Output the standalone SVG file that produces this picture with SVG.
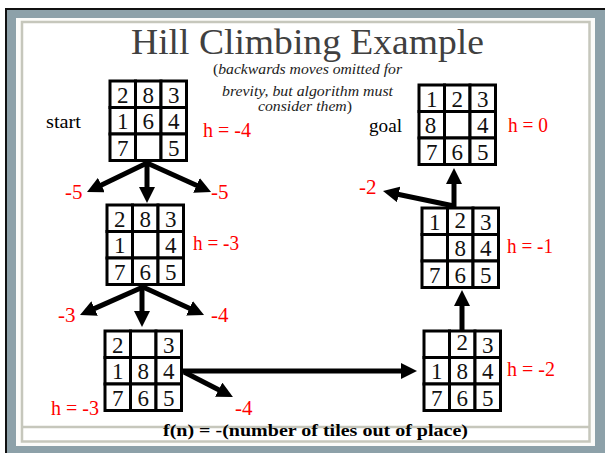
<svg xmlns="http://www.w3.org/2000/svg" width="605" height="453" viewBox="0 0 605 453" font-family="'Liberation Serif', serif">
<defs>
<style>
.cell{fill:#fff;stroke:#000;stroke-width:3}
.d{font-size:23px;fill:#111;text-anchor:middle}
.h{font-size:21px;fill:#ff0000}
.lbl{font-size:19px;fill:#000}
.sub{font-size:15px;font-style:italic;fill:#222}
.arr{stroke:#000;stroke-width:5;fill:none;marker-end:url(#ah)}
</style>
<marker id="ah" viewBox="0 0 16 16" markerWidth="16" markerHeight="16" refX="1" refY="8" orient="auto" markerUnits="userSpaceOnUse">
<path d="M0,0 L16,8 L0,16 z" fill="#000"/>
</marker>
<g id="cells">
<rect class="cell" x="0" y="0" width="25.5" height="26.5"/>
<rect class="cell" x="25.5" y="0" width="25.5" height="26.5"/>
<rect class="cell" x="51" y="0" width="25.5" height="26.5"/>
<rect class="cell" x="0" y="26.5" width="25.5" height="26.5"/>
<rect class="cell" x="25.5" y="26.5" width="25.5" height="26.5"/>
<rect class="cell" x="51" y="26.5" width="25.5" height="26.5"/>
<rect class="cell" x="0" y="53" width="25.5" height="26.5"/>
<rect class="cell" x="25.5" y="53" width="25.5" height="26.5"/>
<rect class="cell" x="51" y="53" width="25.5" height="26.5"/>
</g>
</defs>
<g id="frame">
<rect x="0" y="0" width="605" height="453" fill="#fff"/>
<rect x="5" y="8" width="600" height="445" fill="#111"/>
<rect x="7" y="10" width="598" height="443" fill="#8da1a9"/>
<rect x="16" y="18" width="579" height="428" fill="#fbfbf9"/>
<rect x="22" y="22" width="567.5" height="419.5" fill="#fff" stroke="#c6c7bc" stroke-width="2.5"/>
<line x1="22" y1="427" x2="589.5" y2="427" stroke="#c6c7bc" stroke-width="2.5"/>
</g>
<g id="title">
<text x="131" y="54" font-size="36" fill="#404040" textLength="353" lengthAdjust="spacingAndGlyphs">Hill Climbing Example</text>
<text class="sub" x="213" y="74" font-size="15" textLength="189" lengthAdjust="spacingAndGlyphs"><tspan font-style="normal">(</tspan>backwards moves omitted for</text>
<text class="sub" x="222" y="96" textLength="171" lengthAdjust="spacingAndGlyphs">brevity, but algorithm must</text>
<text class="sub" x="258" y="111" textLength="94" lengthAdjust="spacingAndGlyphs">consider them<tspan font-style="normal">)</tspan></text>
</g>
<g id="connectors">
<line class="arr" x1="147" y1="163" x2="100.5" y2="185.5"/>
<line class="arr" x1="147" y1="162" x2="147" y2="188"/>
<line class="arr" x1="147" y1="163" x2="197.4" y2="185.8"/>
<line class="arr" x1="143" y1="287" x2="93.7" y2="308.9"/>
<line class="arr" x1="142" y1="286" x2="142" y2="312"/>
<line class="arr" x1="143" y1="287" x2="190.4" y2="308.7"/>
<line class="arr" x1="183" y1="371" x2="402" y2="371"/>
<line class="arr" x1="184" y1="372" x2="219.6" y2="390.2"/>
<line class="arr" x1="462" y1="331" x2="462" y2="305"/>
<line class="arr" x1="454" y1="208" x2="454" y2="183"/>
<line class="arr" x1="454" y1="206" x2="397.7" y2="194.2"/>
</g>
<g id="start" transform="translate(110,81)">
<use href="#cells"/>
<text class="d" x="12.75" y="21.5">2</text><text class="d" x="38.25" y="21.5">8</text><text class="d" x="63.75" y="21.5">3</text>
<text class="d" x="12.75" y="48">1</text><text class="d" x="38.25" y="48">6</text><text class="d" x="63.75" y="48">4</text>
<text class="d" x="12.75" y="74.5">7</text><text class="d" x="63.75" y="74.5">5</text>
</g>
<g id="start-labels">
<text class="lbl" x="46" y="128" textLength="35" lengthAdjust="spacingAndGlyphs">start</text>
<text class="h" x="203" y="137" textLength="48" lengthAdjust="spacingAndGlyphs">h = -4</text>
</g>
<g id="goal" transform="translate(419,85)">
<use href="#cells"/>
<text class="d" x="12.75" y="21.5">1</text><text class="d" x="38.25" y="21.5">2</text><text class="d" x="63.75" y="21.5">3</text>
<text class="d" x="11.5" y="48">8</text><text class="d" x="63.75" y="48">4</text>
<text class="d" x="12.75" y="74.5">7</text><text class="d" x="38.25" y="74.5">6</text><text class="d" x="63.75" y="74.5">5</text>
</g>
<g id="goal-labels">
<text class="lbl" x="369" y="132" textLength="33" lengthAdjust="spacingAndGlyphs">goal</text>
<text class="h" x="508" y="132" textLength="40" lengthAdjust="spacingAndGlyphs">h = 0</text>
</g>
<g id="level1" transform="translate(107,205)">
<use href="#cells"/>
<text class="d" x="12.75" y="21.5">2</text><text class="d" x="38.25" y="21.5">8</text><text class="d" x="63.75" y="21.5">3</text>
<text class="d" x="12.75" y="48">1</text><text class="d" x="63.75" y="48">4</text>
<text class="d" x="12.75" y="74.5">7</text><text class="d" x="38.25" y="74.5">6</text><text class="d" x="63.75" y="74.5">5</text>
</g>
<g id="level1-labels">
<text class="h" x="193" y="250" textLength="46" lengthAdjust="spacingAndGlyphs">h = -3</text>
<text class="h" x="65" y="199">-5</text>
<text class="h" x="211" y="199">-5</text>
</g>
<g id="level2" transform="translate(105,331)">
<use href="#cells"/>
<text class="d" x="12.75" y="21.5">2</text><text class="d" x="63.75" y="21.5">3</text>
<text class="d" x="12.75" y="48">1</text><text class="d" x="38.25" y="48">8</text><text class="d" x="63.75" y="48">4</text>
<text class="d" x="12.75" y="74.5">7</text><text class="d" x="38.25" y="74.5">6</text><text class="d" x="63.75" y="74.5">5</text>
</g>
<g id="level2-labels">
<text class="h" x="51" y="415" textLength="48" lengthAdjust="spacingAndGlyphs">h = -3</text>
<text class="h" x="58" y="322">-3</text>
<text class="h" x="211" y="322">-4</text>
<text class="h" x="235" y="415">-4</text>
</g>
<g id="level3" transform="translate(424,331)">
<use href="#cells"/>
<text class="d" x="38.25" y="18.5">2</text><text class="d" x="63.75" y="21.5">3</text>
<text class="d" x="12.75" y="48">1</text><text class="d" x="38.25" y="48">8</text><text class="d" x="63.75" y="48">4</text>
<text class="d" x="12.75" y="74.5">7</text><text class="d" x="38.25" y="74.5">6</text><text class="d" x="63.75" y="74.5">5</text>
</g>
<g id="level3-labels">
<text class="h" x="507" y="376" textLength="48" lengthAdjust="spacingAndGlyphs">h = -2</text>
</g>
<g id="level4" transform="translate(422,208)">
<use href="#cells"/>
<text class="d" x="12.75" y="21.5">1</text><text class="d" x="38.25" y="20">2</text><text class="d" x="63.75" y="21.5">3</text>
<text class="d" x="38.25" y="48">8</text><text class="d" x="63.75" y="48">4</text>
<text class="d" x="12.75" y="74.5">7</text><text class="d" x="38.25" y="74.5">6</text><text class="d" x="63.75" y="74.5">5</text>
</g>
<g id="level4-labels">
<text class="h" x="507" y="253" textLength="46" lengthAdjust="spacingAndGlyphs">h = -1</text>
<text class="h" x="359" y="194">-2</text>
</g>
<g id="caption">
<text x="163" y="436" font-size="17" font-weight="bold" fill="#000" textLength="305" lengthAdjust="spacingAndGlyphs">f(n) = -(number of tiles out of place)</text>
</g>
</svg>
